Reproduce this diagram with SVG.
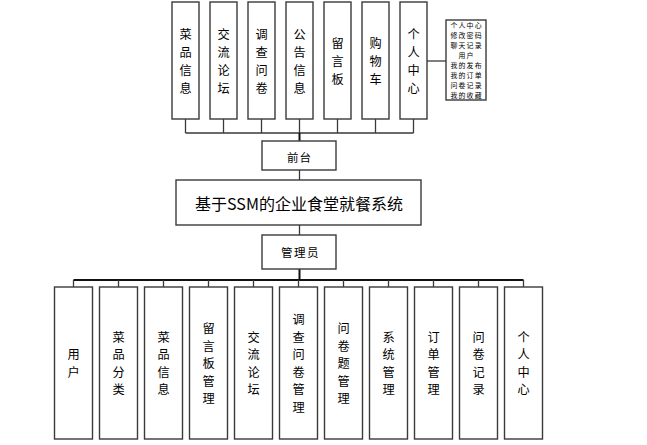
<svg xmlns="http://www.w3.org/2000/svg" width="647" height="445" viewBox="0 0 647 445">
<style>
.box{fill:#fff;stroke:#3a3a3a;stroke-width:1.4}
.ln{fill:none;stroke:#3a3a3a;stroke-width:1.3}
.thk{fill:none;stroke:#111;stroke-width:2}
text{font-family:"Noto Sans CJK SC","Liberation Sans",sans-serif;fill:#000;text-anchor:middle;dominant-baseline:central}
.v{font-size:12.2px}
.s{font-size:6.9px;letter-spacing:1.2px}
</style>
<rect width="647" height="445" fill="#fff"/>
<g id="connectors">
<path class="ln" d="M185.5 119V133M223.5 119V133M261.5 119V133M299.5 119V133M337.5 119V133M375.5 119V133M413.5 119V133M185.5 133H413.5"/>
<path class="thk" d="M299.5 133V141"/>
<path class="ln" d="M427 61H446"/>
<path class="ln" d="M299.5 170V180M299.5 225V235"/>
<path class="thk" d="M299.5 269V280M73.5 280H523.5"/>
<path class="ln" d="M73.5 280V287M118.5 280V287M163.5 280V287M208.5 280V287M253.5 280V287M298.5 280V287M343.5 280V287M388.5 280V287M433.5 280V287M478.5 280V287M523.5 280V287"/>
</g>
<g id="top1"><rect class="box" x="172" y="2" width="27" height="117"/><text class="v"><tspan x="185.5" y="33.5">菜</tspan><tspan x="185.5" y="51.5">品</tspan><tspan x="185.5" y="69.5">信</tspan><tspan x="185.5" y="87.5">息</tspan></text></g>
<g id="top2"><rect class="box" x="210" y="2" width="27" height="117"/><text class="v"><tspan x="223.5" y="33.5">交</tspan><tspan x="223.5" y="51.5">流</tspan><tspan x="223.5" y="69.5">论</tspan><tspan x="223.5" y="87.5">坛</tspan></text></g>
<g id="top3"><rect class="box" x="248" y="2" width="27" height="117"/><text class="v"><tspan x="261.5" y="33.5">调</tspan><tspan x="261.5" y="51.5">查</tspan><tspan x="261.5" y="69.5">问</tspan><tspan x="261.5" y="87.5">卷</tspan></text></g>
<g id="top4"><rect class="box" x="286" y="2" width="27" height="117"/><text class="v"><tspan x="299.5" y="33.5">公</tspan><tspan x="299.5" y="51.5">告</tspan><tspan x="299.5" y="69.5">信</tspan><tspan x="299.5" y="87.5">息</tspan></text></g>
<g id="top5"><rect class="box" x="324" y="2" width="27" height="117"/><text class="v"><tspan x="337.5" y="42.5">留</tspan><tspan x="337.5" y="60.5">言</tspan><tspan x="337.5" y="78.5">板</tspan></text></g>
<g id="top6"><rect class="box" x="362" y="2" width="27" height="117"/><text class="v"><tspan x="375.5" y="42.5">购</tspan><tspan x="375.5" y="60.5">物</tspan><tspan x="375.5" y="78.5">车</tspan></text></g>
<g id="top7"><rect class="box" x="400" y="2" width="27" height="117"/><text class="v"><tspan x="413.5" y="33.5">个</tspan><tspan x="413.5" y="51.5">人</tspan><tspan x="413.5" y="69.5">中</tspan><tspan x="413.5" y="87.5">心</tspan></text></g>
<g id="personal-list"><rect class="box" x="446" y="20" width="40" height="80"/><text class="s"><tspan x="466.6" y="25">个人中心</tspan><tspan x="466.6" y="35">修改密码</tspan><tspan x="466.6" y="45">聊天记录</tspan><tspan x="466.6" y="55">用户</tspan><tspan x="466.6" y="65">我的发布</tspan><tspan x="466.6" y="75">我的订单</tspan><tspan x="466.6" y="85">问卷记录</tspan><tspan x="466.6" y="95">我的收藏</tspan></text></g>
<g id="front"><rect class="box" x="262" y="141" width="74" height="29"/><text x="299.5" y="157" font-size="11.5" letter-spacing="1">前台</text></g>
<g id="system"><rect class="box" x="176" y="180" width="245" height="45"/><text x="299" y="203" font-size="16">基于SSM的企业食堂就餐系统</text></g>
<g id="admin"><rect class="box" x="262" y="235" width="74" height="34"/><text x="300.5" y="252" font-size="11.5" letter-spacing="1.5">管理员</text></g>
<g id="b1"><rect class="box" x="54.5" y="287" width="38" height="152"/><text class="v"><tspan x="73.5" y="354.2">用</tspan><tspan x="73.5" y="371.7">户</tspan></text></g>
<g id="b2"><rect class="box" x="99.5" y="287" width="38" height="152"/><text class="v"><tspan x="118.5" y="336.7">菜</tspan><tspan x="118.5" y="354.2">品</tspan><tspan x="118.5" y="371.7">分</tspan><tspan x="118.5" y="389.2">类</tspan></text></g>
<g id="b3"><rect class="box" x="144.5" y="287" width="38" height="152"/><text class="v"><tspan x="163.5" y="336.7">菜</tspan><tspan x="163.5" y="354.2">品</tspan><tspan x="163.5" y="371.7">信</tspan><tspan x="163.5" y="389.2">息</tspan></text></g>
<g id="b4"><rect class="box" x="189.5" y="287" width="38" height="152"/><text class="v"><tspan x="208.5" y="328">留</tspan><tspan x="208.5" y="345.5">言</tspan><tspan x="208.5" y="363">板</tspan><tspan x="208.5" y="380.5">管</tspan><tspan x="208.5" y="398">理</tspan></text></g>
<g id="b5"><rect class="box" x="234.5" y="287" width="38" height="152"/><text class="v"><tspan x="253.5" y="336.7">交</tspan><tspan x="253.5" y="354.2">流</tspan><tspan x="253.5" y="371.7">论</tspan><tspan x="253.5" y="389.2">坛</tspan></text></g>
<g id="b6"><rect class="box" x="279.5" y="287" width="38" height="152"/><text class="v"><tspan x="298.5" y="319.2">调</tspan><tspan x="298.5" y="336.7">查</tspan><tspan x="298.5" y="354.2">问</tspan><tspan x="298.5" y="371.7">卷</tspan><tspan x="298.5" y="389.2">管</tspan><tspan x="298.5" y="406.7">理</tspan></text></g>
<g id="b7"><rect class="box" x="324.5" y="287" width="38" height="152"/><text class="v"><tspan x="343.5" y="328">问</tspan><tspan x="343.5" y="345.5">卷</tspan><tspan x="343.5" y="363">题</tspan><tspan x="343.5" y="380.5">管</tspan><tspan x="343.5" y="398">理</tspan></text></g>
<g id="b8"><rect class="box" x="369.5" y="287" width="38" height="152"/><text class="v"><tspan x="388.5" y="336.7">系</tspan><tspan x="388.5" y="354.2">统</tspan><tspan x="388.5" y="371.7">管</tspan><tspan x="388.5" y="389.2">理</tspan></text></g>
<g id="b9"><rect class="box" x="414.5" y="287" width="38" height="152"/><text class="v"><tspan x="433.5" y="336.7">订</tspan><tspan x="433.5" y="354.2">单</tspan><tspan x="433.5" y="371.7">管</tspan><tspan x="433.5" y="389.2">理</tspan></text></g>
<g id="b10"><rect class="box" x="459.5" y="287" width="38" height="152"/><text class="v"><tspan x="478.5" y="336.7">问</tspan><tspan x="478.5" y="354.2">卷</tspan><tspan x="478.5" y="371.7">记</tspan><tspan x="478.5" y="389.2">录</tspan></text></g>
<g id="b11"><rect class="box" x="504.5" y="287" width="38" height="152"/><text class="v"><tspan x="523.5" y="336.7">个</tspan><tspan x="523.5" y="354.2">人</tspan><tspan x="523.5" y="371.7">中</tspan><tspan x="523.5" y="389.2">心</tspan></text></g>
</svg>
